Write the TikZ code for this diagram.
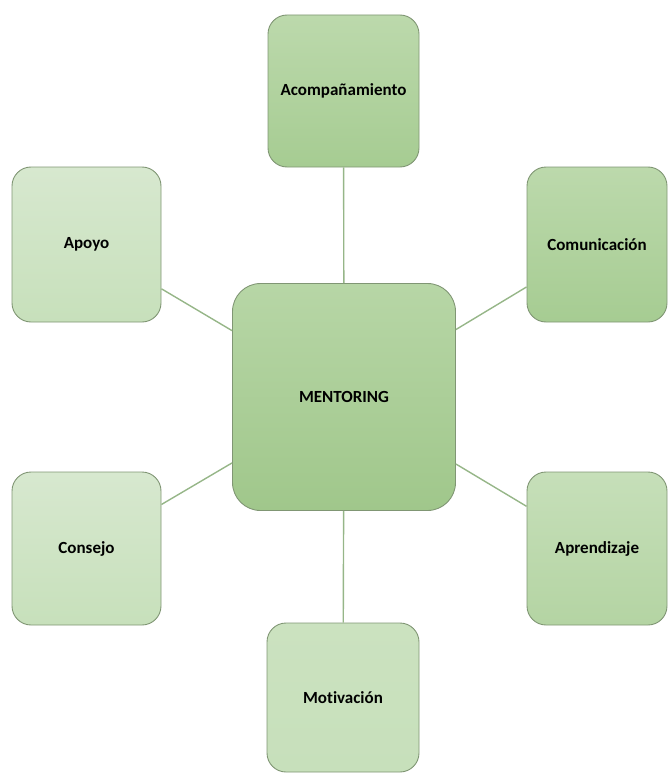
\documentclass[tikz,border=0pt]{standalone}
\usepackage{fontspec}
\setmainfont{Carlito}[Ligatures=NoCommon]
\definecolor{borde}{RGB}{128,150,116}
\definecolor{enlace}{RGB}{150,182,136}
\definecolor{centroA}{RGB}{183,214,166}
\definecolor{centroB}{RGB}{160,199,139}
\definecolor{medioA}{RGB}{188,217,172}
\definecolor{medioB}{RGB}{166,204,146}
\definecolor{suaveA}{RGB}{198,223,185}
\definecolor{suaveB}{RGB}{180,212,163}
\definecolor{claroA}{RGB}{215,232,207}
\definecolor{claroB}{RGB}{199,224,187}
\begin{document}
\begin{tikzpicture}[x=1pt,y=-1pt,font=\bfseries\fontsize{17}{20}\selectfont,
	caja/.style={rectangle,rounded corners=19pt,draw=borde,line width=0.9pt,inner sep=0pt,
		minimum width=149pt,minimum height=153pt},
	medio/.style={caja,top color=medioA,bottom color=medioB},
	suave/.style={caja,top color=suaveA,bottom color=suaveB},
	claro/.style={caja,top color=claroA,bottom color=claroB},
	enl/.style={draw=enlace,line width=1.4pt}]
	\useasboundingbox (0,0) rectangle (668,773);
	% centro
	\node[caja,rounded corners=28pt,top color=centroA,bottom color=centroB,
		minimum width=223pt,minimum height=227pt] (centro) at (344,397) {MENTORING};
	% alrededor
	\node[medio,minimum width=151pt,minimum height=152pt] (acomp) at (343.5,91) {Acompañamiento};
	\node[claro,minimum height=155pt] (apoyo) at (86.5,244.5) {Apoyo};
	\node[medio,minimum width=140pt,minimum height=155pt] (comun) at (597,244.5) {Comunicación};
	\node[claro] (consejo) at (86.5,548.5) {Consejo};
	\node[suave,minimum width=140pt] (aprend) at (597,548.5) {Aprendizaje};
	\node[claro,minimum width=152pt,minimum height=149pt,top color=suaveA!70!claroA] (motiv) at (343,697.5) {Motivación};
	\foreach \n in {acomp,apoyo,comun,consejo,aprend,motiv}
		\draw[enl] (centro) -- (\n);
\end{tikzpicture}
\end{document}
